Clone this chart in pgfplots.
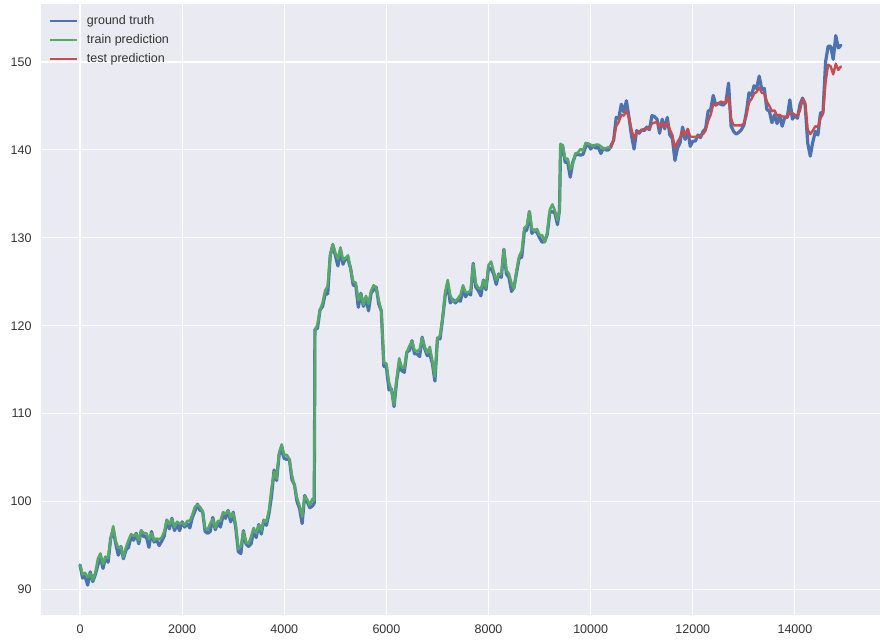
\documentclass[border=0pt]{standalone}
\usepackage{fontspec}
\setmainfont{Liberation Sans}
\usepackage{pgfplots}
\pgfplotsset{compat=1.18}
\definecolor{bgc}{HTML}{EAEAF2}
\definecolor{cblue}{HTML}{4C72B0}
\definecolor{cgreen}{HTML}{55A868}
\definecolor{cred}{HTML}{C44E52}
\definecolor{ctxt}{HTML}{333333}
\begin{document}
\fontsize{12.5}{15}\selectfont
\begin{tikzpicture}
\fill[white] (-40.7pt,-28pt) rectangle (840.3pt,615pt);
\path[use as bounding box] (-40.7pt,-28pt) rectangle (840.3pt,615pt);
\begin{axis}[
 at={(0pt,0pt)}, anchor=south west,
 scale only axis, width=839pt, height=611pt,
 xmin=-770, xmax=15660, ymin=87.1, ymax=156.6,
 axis background/.style={fill=bgc},
 axis line style={draw=none},
 major tick length=0pt,
 grid=major, major grid style={white, line width=1.1pt},
 xtick={0,2000,...,14000}, ytick={90,100,...,150},
 scaled x ticks=false, scaled y ticks=false,
 /pgf/number format/1000 sep={},
 /pgf/number format/assume math mode=true,
 tick label style={font=\fontsize{12.5}{15}\selectfont, color=ctxt, inner sep=0pt},
 xticklabel shift=9.5pt, yticklabel shift=9pt,
 legend style={draw=none, fill=none, at={(axis description cs:0.0100,0.985)}, anchor=north west,
   inner sep=0pt, row sep=4pt, font=\fontsize{12.5}{15}\selectfont, text=ctxt,
   nodes={inner sep=2pt}, /tikz/every odd column/.append style={column sep=7pt}},
 legend cell align=left,
 legend image code/.code={\draw[#1] (0pt,0pt) -- (27pt,0pt);},
]
\addlegendimage{cblue, line width=1.7pt}
\addlegendentry{ground truth}
\addlegendimage{cgreen, line width=1.7pt}
\addlegendentry{train prediction}
\addlegendimage{cred, line width=1.7pt}
\addlegendentry{test prediction}
\addplot[forget plot, cblue, line width=3.2pt, line join=round, line cap=round] table {
x y
0 92.8
50 91.3
100 91.5
150 90.5
200 92.0
250 90.9
300 91.7
350 92.8
400 93.7
450 92.4
500 93.7
550 93.1
600 95.8
650 96.8
700 95.2
750 93.9
800 94.9
850 93.5
900 94.5
950 94.8
1000 96.0
1050 95.6
1100 96.4
1150 95.2
1200 96.7
1250 96.0
1300 96.0
1350 94.8
1400 96.6
1450 95.4
1500 95.6
1550 95.0
1600 95.5
1650 96.1
1700 97.9
1750 96.9
1800 98.1
1850 96.7
1900 97.4
1950 96.7
2000 97.7
2050 97.1
2100 97.5
2150 97.0
2200 98.2
2250 98.9
2300 99.7
2350 99.0
2400 98.9
2450 96.6
2500 96.4
2550 96.6
2600 98.2
2650 96.8
2700 97.6
2750 97.1
2800 98.4
2850 98.1
2900 99.0
2950 97.7
3000 98.8
3050 97.0
3100 94.3
3150 94.1
3200 96.7
3250 95.2
3300 94.9
3350 95.2
3400 96.7
3450 95.9
3500 97.4
3550 96.3
3600 97.9
3650 97.3
3700 98.6
3750 100.6
3800 103.6
3850 102.4
3900 105.4
3950 105.8
4000 104.9
4050 104.8
4100 104.8
4150 102.5
4200 101.9
4250 100.0
4300 99.2
4350 97.5
4400 100.7
4450 100.0
4500 99.3
4550 99.5
4585 99.8
4592 106.5
4600 119.6
4650 119.7
4700 121.8
4750 122.2
4800 123.6
4850 123.6
4900 128.0
4950 129.2
5000 128.0
5050 126.8
5100 128.6
5150 127.0
5200 127.7
5250 127.5
5300 126.5
5350 124.6
5400 124.6
5450 122.1
5500 123.7
5550 122.2
5600 123.1
5650 121.7
5700 123.7
5750 124.1
5800 124.4
5850 122.5
5900 121.7
5950 115.4
6000 115.3
6050 112.7
6100 112.8
6150 110.8
6200 113.7
6250 115.6
6300 114.9
6350 114.7
6400 117.0
6450 117.2
6500 118.3
6550 116.8
6600 116.8
6650 116.5
6700 118.7
6750 117.4
6800 116.6
6850 116.8
6900 115.7
6950 113.7
7000 118.6
7050 118.5
7100 120.8
7150 123.4
7200 124.8
7250 122.6
7300 123.0
7350 122.6
7400 122.9
7450 122.8
7500 124.2
7550 123.3
7600 123.8
7650 123.5
7700 127.1
7750 124.4
7800 124.0
7850 123.4
7900 125.2
7950 124.1
8000 126.6
8050 126.5
8100 125.9
8150 124.7
8200 125.9
8250 125.5
8300 128.7
8350 125.9
8400 125.5
8450 123.9
8500 124.4
8550 126.1
8600 127.7
8650 127.8
8700 130.7
8750 130.9
8800 133.0
8850 130.5
8900 130.9
8950 130.6
9000 130.0
9050 129.5
9100 129.6
9150 130.4
9200 132.9
9250 133.0
9300 132.8
9350 131.5
9390 133.2
9410 140.3
9450 140.5
9500 138.6
9550 138.6
9600 136.9
9650 138.6
9700 139.4
9750 139.5
9800 139.4
9850 139.5
9900 140.3
9950 140.7
10000 140.1
10050 140.5
10100 140.2
10150 140.3
10200 139.6
10250 140.2
10300 140.0
10350 140.0
10400 140.5
10450 141.1
10500 143.7
10550 143.6
10600 145.2
10650 144.3
10700 145.6
10750 143.7
10800 141.6
10850 140.1
10900 142.2
10950 141.9
11000 142.3
11050 142.2
11100 142.6
11150 142.3
11200 143.9
11250 143.8
11300 143.5
11350 141.9
11400 143.5
11450 142.4
11500 143.7
11550 141.7
11600 141.3
11650 138.8
11700 140.2
11750 140.8
11800 142.6
11850 141.2
11900 142.3
11950 140.4
12000 141.0
12050 141.0
12100 141.7
12150 141.4
12200 142.1
12250 142.4
12300 144.4
12350 144.6
12400 146.2
12450 145.1
12500 145.3
12550 145.2
12600 145.1
12650 145.5
12700 147.6
12750 142.7
12800 142.1
12850 141.8
12900 142.0
12950 142.3
13000 142.8
13050 144.3
13100 146.5
13150 146.2
13200 147.3
13250 147.0
13300 148.4
13350 146.9
13400 147.0
13450 144.6
13500 144.4
13550 143.1
13600 144.0
13650 143.0
13700 143.9
13750 142.7
13800 143.7
13850 143.7
13900 145.7
13950 143.5
14000 143.9
14050 143.6
14100 145.2
14150 145.9
14200 145.1
14250 140.8
14300 139.3
14350 140.9
14400 142.1
14450 141.7
14500 144.2
14550 144.3
14600 150.0
14650 151.8
14700 151.8
14750 150.3
14800 153.0
14850 151.6
14900 151.9
};
\addplot[forget plot, cgreen, line width=2.6pt, line join=round, line cap=round] table {
x y
0 92.8
50 91.7
100 91.9
150 91.4
200 91.8
250 91.1
300 91.9
350 93.5
400 94.1
450 92.9
500 93.7
550 93.6
600 95.7
650 97.2
700 95.5
750 94.7
800 94.8
850 93.7
900 94.8
950 95.6
1000 96.3
1050 96.1
1100 96.3
1150 95.6
1200 96.7
1250 96.4
1300 96.4
1350 95.7
1400 96.4
1450 95.6
1500 95.8
1550 95.7
1600 95.9
1650 96.6
1700 97.9
1750 97.4
1800 98.0
1850 97.1
1900 97.7
1950 97.5
2000 97.6
2050 97.3
2100 97.8
2150 97.8
2200 98.5
2250 99.4
2300 99.6
2350 99.4
2400 98.9
2450 97.0
2500 96.8
2550 97.5
2600 98.0
2650 97.0
2700 97.8
2750 97.8
2800 98.8
2850 98.6
2900 99.0
2950 98.2
3000 98.7
3050 97.4
3100 94.6
3150 94.9
3200 96.6
3250 95.4
3300 95.2
3350 96.0
3400 97.0
3450 96.4
3500 97.3
3550 96.7
3600 97.9
3650 97.7
3700 99.0
3750 101.5
3800 103.4
3850 102.6
3900 105.6
3950 106.5
4000 105.3
4050 105.3
4100 104.8
4150 103.0
4200 101.8
4250 100.4
4300 99.5
4350 98.3
4400 100.6
4450 100.2
4500 99.6
4550 100.3
4585 100.1
4592 107.0
4600 119.5
4650 120.1
4700 121.8
4750 122.6
4800 124.0
4850 124.5
4900 128.0
4950 129.3
5000 128.3
5050 127.6
5100 128.9
5150 127.5
5200 127.7
5250 128.0
5300 126.4
5350 125.0
5400 124.9
5450 122.9
5500 123.6
5550 122.4
5600 123.4
5650 122.5
5700 124.0
5750 124.6
5800 124.3
5850 122.9
5900 121.7
5950 115.8
6000 115.7
6050 113.6
6100 112.6
6150 111.0
6200 113.9
6250 116.3
6300 115.3
6350 115.2
6400 117.0
6450 117.7
6500 118.2
6550 117.2
6600 117.1
6650 117.3
6700 118.6
6750 117.6
6800 116.9
6850 117.6
6900 116.0
6950 114.2
7000 118.5
7050 118.9
7100 120.8
7150 123.8
7200 125.2
7250 123.5
7300 122.8
7350 122.8
7400 123.1
7450 123.5
7500 124.6
7550 123.8
7600 123.8
7650 124.0
7700 127.0
7750 124.8
7800 124.3
7850 124.2
7900 125.1
7950 124.3
8000 126.9
8050 127.3
8100 126.2
8150 125.2
8200 125.8
8250 125.9
8300 128.7
8350 126.3
8400 125.9
8450 124.8
8500 124.2
8550 126.3
8600 127.9
8650 128.5
8700 131.1
8750 131.4
8800 133.0
8850 131.0
8900 130.8
8950 131.0
9000 130.3
9050 130.3
9100 129.5
9150 130.6
9200 133.2
9250 133.8
9300 133.1
9350 132.0
9390 133.1
9410 140.7
9450 140.5
9500 139.0
9550 139.0
9600 137.8
9650 138.4
9700 139.6
9750 139.7
9800 140.1
9850 139.9
9900 140.8
9950 140.7
10000 140.6
10050 140.4
10100 140.6
10150 140.6
10200 140.4
10250 140.1
10300 140.2
10350 140.3
10400 140.2
};
\addplot[forget plot, cred, line width=2.4pt, line join=round, line cap=round] table {
x y
10400 140.3
10450 141.2
10500 142.7
10550 143.2
10600 144.0
10650 143.9
10700 144.5
10750 143.7
10800 142.3
10850 141.3
10900 142.0
10950 142.1
11000 142.2
11050 142.4
11100 142.4
11150 142.4
11200 143.0
11250 143.1
11300 143.2
11350 142.6
11400 143.1
11450 142.6
11500 143.1
11550 142.3
11600 141.7
11650 140.2
11700 140.9
11750 141.4
11800 142.2
11850 141.7
11900 142.4
11950 141.5
12000 141.5
12050 141.5
12100 141.5
12150 141.7
12200 141.8
12250 142.2
12300 143.3
12350 144.0
12400 145.2
12450 145.1
12500 145.3
12550 145.5
12600 145.4
12650 145.3
12700 146.1
12750 143.5
12800 142.8
12850 142.8
12900 142.8
12950 142.8
13000 143.0
13050 143.9
13100 145.4
13150 145.8
13200 146.4
13250 146.6
13300 147.1
13350 146.5
13400 146.4
13450 145.5
13500 145.0
13550 144.4
13600 144.5
13650 143.9
13700 144.0
13750 143.8
13800 143.8
13850 143.7
13900 144.3
13950 144.2
14000 144.0
14050 143.9
14100 144.5
14150 145.8
14200 145.4
14250 142.3
14300 141.8
14350 142.2
14400 142.7
14450 142.6
14500 143.6
14550 144.1
14600 147.7
14650 149.7
14700 149.5
14750 148.6
14800 149.8
14850 149.1
14900 149.5
};
\end{axis}
\end{tikzpicture}
\end{document}
